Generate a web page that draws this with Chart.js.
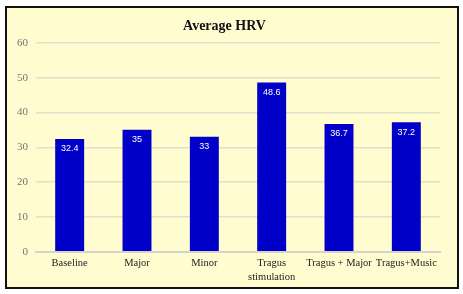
<!DOCTYPE html>
<html>
<head>
<meta charset="utf-8">
<script src="https://cdn.jsdelivr.net/npm/chart.js@4"></script>
<style>
  html, body { margin: 0; padding: 0; background: #fff; }
  #frame {
    position: absolute; left: 5px; top: 6px;
    width: 450px; height: 279px;
    border: 2px solid #111;
    background: #fffdd0;
    overflow: hidden;
  }
  #caja { position: absolute; left: 0; top: 0; width: 450px; height: 281px; }
  #caja canvas { display: block; }
</style>
</head>
<body>
<div id="frame"><div id="caja"><canvas id="hrv-grafica"></canvas></div></div>
<script>
const categorias = ['Baseline', 'Major', 'Minor', ['Tragus', 'stimulation'], 'Tragus + Major', 'Tragus+Music'];
const valores = [32.4, 35, 33, 48.6, 36.7, 37.2];
const etiquetas = ['32.4', '35', '33', '48.6', '36.7', '37.2'];

// escribe el valor en blanco dentro de la barra, arriba
const valorBarras = {
  id: 'valorBarras',
  afterDatasetsDraw(chart){
    const ctx = chart.ctx;
    const meta = chart.getDatasetMeta(0);
    ctx.save();
    ctx.fillStyle = '#ffffff';
    ctx.font = '9px "Liberation Sans", sans-serif';
    ctx.textAlign = 'center';
    ctx.textBaseline = 'middle';
    meta.data.forEach((bar, i) => {
      ctx.fillText(etiquetas[i], bar.x, bar.y + 10);
    });
    ctx.restore();
  }
};

const ctx = document.getElementById('hrv-grafica').getContext('2d');
new Chart(ctx, {
  type: 'bar',
  data: {
    labels: categorias,
    datasets: [{
      label: 'Average HRV',
      data: valores,
      backgroundColor: '#0000c8',
      barPercentage: 0.43,
      categoryPercentage: 1
    }]
  },
  options: {
    responsive: true,
    maintainAspectRatio: false,
    animation: false,
    layout: { padding: { left: 2, right: 17, top: 2, bottom: 0 } },
    scales: {
      x: {
        grid: { display: false, drawTicks: false },
        border: { color: '#d4d4cc', width: 2 },
        ticks: { color: '#222', font: { family: '"Liberation Serif", serif', size: 10.5, lineHeight: 1.3 }, maxRotation: 0, autoSkip: false, padding: 5 }
      },
      y: {
        min: 0, max: 60,
        ticks: { stepSize: 10, color: '#777', font: { family: '"Liberation Serif", serif', size: 11 }, padding: 8 },
        grid: { color: '#e2e0cc', lineWidth: 1.5, drawTicks: false },
        border: { display: false }
      }
    },
    plugins: {
      legend: { display: false },
      tooltip: { enabled: false },
      title: {
        display: true,
        text: 'Average HRV',
        color: '#111',
        font: { family: '"Liberation Serif", serif', size: 14, weight: 'bold' },
        padding: { top: 8, bottom: 8 }
      }
    }
  },
  plugins: [valorBarras]
});
</script>
</body>
</html>
